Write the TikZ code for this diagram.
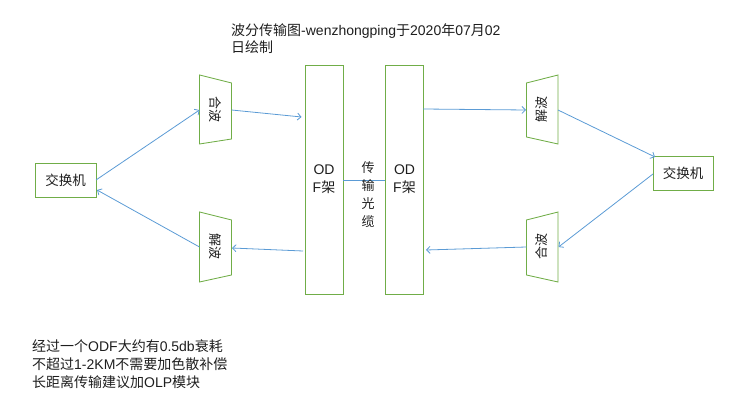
\documentclass[tikz,border=0pt]{standalone}
\usepackage{fontspec}
\setmainfont{Liberation Sans}
\newfontfamily\cjk{Noto Sans CJK SC}
\usetikzlibrary{arrows.meta}
\definecolor{boxgreen}{RGB}{112,173,71}
\definecolor{lineblue}{RGB}{91,155,213}
\definecolor{txt}{RGB}{30,30,30}
\begin{document}
\begin{tikzpicture}[x=1pt,y=-1pt,
  every node/.style={text=txt},
  switchbox/.style={draw=boxgreen,line width=0.85pt,rectangle,inner sep=0pt,font=\cjk\fontsize{13.5}{16}\selectfont},
  odfbox/.style={draw=boxgreen,line width=0.85pt,rectangle,inner sep=0pt,minimum width=38pt,minimum height=229pt,align=center,font=\fontsize{14}{18}\selectfont},
  trapbox/.style={draw=boxgreen,line width=0.85pt,line join=miter},
  traplabel/.style={font=\cjk\fontsize{13}{14}\selectfont,inner sep=0pt},
  link/.style={draw=lineblue,line width=0.8pt,-{Straight Barb[length=3.5pt,width=7pt]}},
  plain/.style={draw=lineblue,line width=0.8pt}
]
\useasboundingbox (0,0) rectangle (738,411);

% switches
\node[switchbox,minimum width=61pt,minimum height=34pt] (swL) at (65.5,180) {交换机};
\node[switchbox,minimum width=60pt,minimum height=34pt] (swR) at (683,173) {交换机};

% ODF frames
\node[odfbox] (odfL) at (324,179.5) {OD\\F{\cjk 架}};
\node[odfbox] (odfR) at (404.5,179.5) {OD\\F{\cjk 架}};

% trapezoids
\draw[trapbox] (199.5,75) -- (231.5,83) -- (231.5,139) -- (199.5,144) -- cycle;
\draw[trapbox] (199.5,212) -- (231.5,220) -- (231.5,275) -- (199.5,282) -- cycle;
\draw[trapbox] (526.5,83) -- (558,75) -- (558,144) -- (526.5,137) -- cycle;
\draw[trapbox] (526.5,220) -- (558,212) -- (558,282) -- (526.5,275) -- cycle;

\node[traplabel,rotate=-90] (tTL) at (215.5,110) {合波};
\node[traplabel,rotate=-90] (tBL) at (215.5,247) {解波};
\node[traplabel,rotate=90] (tTR) at (542,110) {解波};
\node[traplabel,rotate=90] (tBR) at (542,247) {合波};

% connection points
\coordinate (tlIn) at (199.5,110);
\coordinate (tlOut) at (231.5,110);
\coordinate (odfLin) at (301.5,117);
\coordinate (odfRout) at (423,109);
\coordinate (trIn) at (526,110);
\coordinate (trOut) at (558,110);
\coordinate (swRin) at (655,157);
\coordinate (swRout) at (653,174);
\coordinate (brIn) at (558.5,247);
\coordinate (brOut) at (526.5,247);
\coordinate (odfRin) at (426,250);
\coordinate (odfLout) at (303,251);
\coordinate (blIn) at (232,248);
\coordinate (blOut) at (199.5,247);
\coordinate (swLin) at (97,190);
\coordinate (swLout) at (96,180);

\draw[link] (swLout) -- (tlIn);
\draw[link] (tlOut) -- (odfLin);
\draw[link] (odfRout) -- (trIn);
\draw[link] (trOut) -- (swRin);
\draw[link] (swRout) -- (brIn);
\draw[link] (brOut) -- (odfRin);
\draw[link] (odfLout) -- (blIn);
\draw[link] (blOut) -- (swLin);
\draw[plain] (odfL.east |- 0,180) -- (odfR.west |- 0,180);

% cable label
\node[align=center,inner sep=0pt,font=\cjk\fontsize{13}{18}\selectfont] (cable) at (368,195) {传\\输\\光\\缆};

% title
\node[anchor=north west,align=left,inner sep=0pt,font=\fontsize{14}{17}\selectfont] (title) at (231,23)
 {{\cjk 波分传输图}-wenzhongping{\cjk 于}2020{\cjk 年}07{\cjk 月}02\\{\cjk 日绘制}};

% notes
\node[anchor=north west,align=left,inner sep=0pt,font=\fontsize{14}{18}\selectfont] (notes) at (32,339)
 {{\cjk 经过一个}ODF{\cjk 大约有}0.5db{\cjk 衰耗}\\
  {\cjk 不超过}1-2KM{\cjk 不需要加色散补偿}\\
  {\cjk 长距离传输建议加}OLP{\cjk 模块}};
\end{tikzpicture}
\end{document}
